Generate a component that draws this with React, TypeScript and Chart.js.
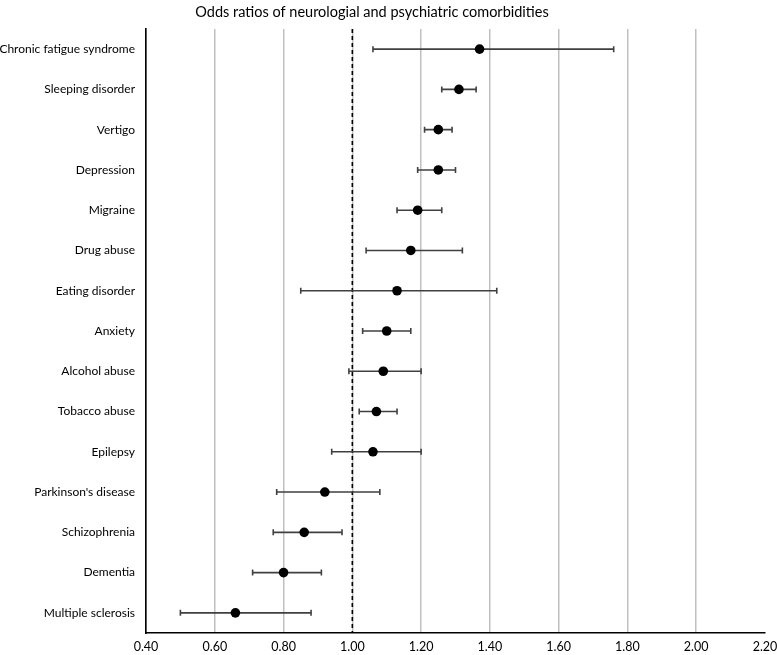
import React, { useEffect, useRef } from "react";
import { Chart, registerables } from "chart.js";

Chart.register(...registerables);

const categories = [
  "Chronic fatigue syndrome",
  "Sleeping disorder",
  "Vertigo",
  "Depression",
  "Migraine",
  "Drug abuse",
  "Eating disorder",
  "Anxiety",
  "Alcohol abuse",
  "Tobacco abuse",
  "Epilepsy",
  "Parkinson's disease",
  "Schizophrenia",
  "Dementia",
  "Multiple sclerosis",
];
const oddsRatios = [1.37, 1.31, 1.25, 1.25, 1.19, 1.17, 1.13, 1.1, 1.09, 1.07, 1.06, 0.92, 0.86, 0.8, 0.66];
const lowerCI = [1.06, 1.26, 1.21, 1.19, 1.13, 1.04, 0.85, 1.03, 0.99, 1.02, 0.94, 0.78, 0.77, 0.71, 0.5];
const upperCI = [1.76, 1.36, 1.29, 1.3, 1.26, 1.32, 1.42, 1.17, 1.2, 1.13, 1.2, 1.08, 0.97, 0.91, 0.88];
const referenceValue = 1.0;
const xMin = 0.4;
const xMax = 2.2;
const xStep = 0.2;
const titleText = "Odds ratios of neurologial and psychiatric comorbidities";

const FONT = "Lato, 'Open Sans', sans-serif";

const whiskerPlugin = {
  id: "whiskers",
  beforeDatasetsDraw(chart: any) {
    const { ctx, chartArea } = chart;
    const xs = chart.scales.x;
    const ys = chart.scales.y;
    ctx.save();
    const rx = xs.getPixelForValue(referenceValue);
    ctx.strokeStyle = "#000";
    ctx.lineWidth = 1.6;
    ctx.setLineDash([4, 3]);
    ctx.beginPath();
    ctx.moveTo(rx, chartArea.top);
    ctx.lineTo(rx, chartArea.bottom);
    ctx.stroke();
    ctx.setLineDash([]);
    ctx.strokeStyle = "#404040";
    ctx.lineWidth = 1.6;
    categories.forEach((c, i) => {
      const y = ys.getPixelForValue(i);
      const x1 = xs.getPixelForValue(lowerCI[i]);
      const x2 = xs.getPixelForValue(upperCI[i]);
      ctx.beginPath();
      ctx.moveTo(x1, y);
      ctx.lineTo(x2, y);
      ctx.moveTo(x1, y - 3);
      ctx.lineTo(x1, y + 3);
      ctx.moveTo(x2, y - 3);
      ctx.lineTo(x2, y + 3);
      ctx.stroke();
    });
    ctx.restore();
  },
  afterDraw(chart: any) {
    const { ctx } = chart;
    ctx.save();
    ctx.fillStyle = "#000";
    ctx.font = `14.5px ${FONT}`;
    ctx.textAlign = "center";
    ctx.textBaseline = "middle";
    ctx.fillText(titleText, 372, 12);
    ctx.restore();
  },
};

export default function App() {
  const ref = useRef<HTMLCanvasElement>(null);
  useEffect(() => {
    document.body.style.margin = "0";
    const chart = new Chart(ref.current!, {
      type: "scatter",
      data: {
        datasets: [
          {
            data: categories.map((c, i) => ({ x: oddsRatios[i], y: c })) as any,
            backgroundColor: "#000",
            borderColor: "#000",
            borderWidth: 0,
            pointRadius: 4.8,
            pointHoverRadius: 4.8,
          },
        ],
      },
      options: {
        animation: false,
        responsive: false,
        layout: { padding: { left: 0, right: 12, top: 29, bottom: 0 } },
        plugins: {
          legend: { display: false },
          tooltip: { enabled: false },
          title: { display: false },
        },
        scales: {
          x: {
            type: "linear",
            min: xMin,
            max: xMax,
            ticks: {
              stepSize: xStep,
              color: "#000",
              font: { family: FONT, size: 12.5 },
              padding: 6,
              callback: (v: any) => Number(v).toFixed(2),
            },
            grid: {
              color: (ctx: any) =>
                ctx.tick && Math.abs(ctx.tick.value - xMax) < 1e-6 ? "transparent" : "#c0c0c0",
              lineWidth: 1.5,
              drawTicks: false,
            },
            border: { display: true, color: "#000", width: 1.6 },
            afterFit: (s: any) => {
              s.height = 22;
              s.paddingRight = 0;
              s.paddingLeft = 0;
            },
          },
          y: {
            type: "category",
            labels: categories,
            offset: true,
            ticks: {
              color: "#000",
              font: { family: FONT, size: 12 },
              padding: 3,
            },
            grid: { display: false },
            border: { display: true, color: "#000", width: 1.6 },
            afterFit: (s: any) => {
              s.width = 146;
              s.paddingTop = 0;
              s.paddingBottom = 0;
            },
          },
        },
      },
      plugins: [whiskerPlugin],
    });
    return () => chart.destroy();
  }, []);
  return <canvas ref={ref} width={777} height={655} style={{ display: "block" }} />;
}
